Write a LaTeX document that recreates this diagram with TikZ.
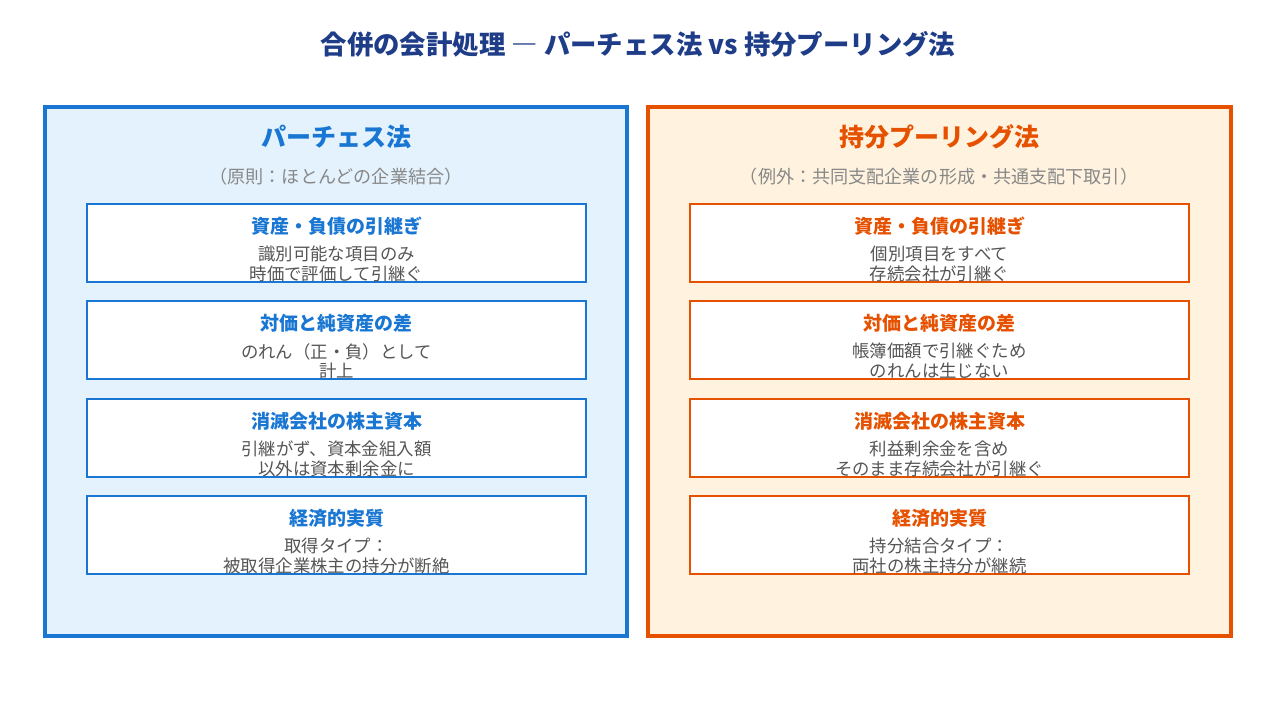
\documentclass[tikz,border=0pt]{standalone}
\usepackage{fontspec}
\setmainfont{Noto Sans CJK JP}
\usetikzlibrary{positioning}
\definecolor{navy}{HTML}{1F3C88}
\definecolor{pblue}{HTML}{1976D2}
\definecolor{pbluebg}{HTML}{E3F2FD}
\definecolor{porange}{HTML}{E65100}
\definecolor{porangebg}{HTML}{FFF3E0}
\definecolor{txtgray}{HTML}{555555}
\definecolor{subgray}{HTML}{888888}
\tikzset{
  panel/.style={draw=#1, line width=4pt, inner sep=0pt},
  itembox/.style={draw=#1, line width=2pt, fill=white, minimum width=499pt, minimum height=78pt, inner sep=0pt},
  itemhead/.style={text=#1, font=\fontsize{19}{22}\selectfont\bfseries},
  itembody/.style={text=txtgray, align=center, inner sep=0pt, font=\fontsize{17.4}{19.5}\selectfont},
}
\newcommand{\itemcard}[5]{%
  % #1 name, #2 center, #3 colour, #4 head, #5 body
  \node [itembox=#3] (#1) at #2 {};
  \node [itemhead=#3] (#1h) at ([yshift=-23pt]#1.north) {#4};
  \node [itembody, anchor=north] (#1b) at ([yshift=-43pt]#1.north) {#5};
}
\begin{document}
\begin{tikzpicture}[x=1pt,y=-1pt]
  \useasboundingbox (0,0) rectangle (1275,728);
  % title
  \node [text=navy, font=\fontsize{26.4}{30}\selectfont\bfseries] (title) at (638,44) {合併の会計処理 ― パーチェス法 vs 持分プーリング法};
  % left panel
  \filldraw [pbluebg, panel=pblue] (45,107) rectangle (627,636);
  \node [text=pblue, font=\fontsize{25}{29}\selectfont\bfseries] (ltitle) at (336,137) {パーチェス法};
  \node [text=subgray, font=\fontsize{18.1}{21}\selectfont] (lsub) at (336,177) {（原則：ほとんどの企業結合）};
  \itemcard{l1}{(336.5,243)}{pblue}{資産・負債の引継ぎ}{識別可能な項目のみ\\時価で評価して引継ぐ}
  \itemcard{l2}{(336.5,340)}{pblue}{対価と純資産の差}{のれん（正・負）として\\計上}
  \itemcard{l3}{(336.5,438)}{pblue}{消滅会社の株主資本}{引継がず、資本金組入額\\以外は資本剰余金に}
  \itemcard{l4}{(336.5,535)}{pblue}{経済的実質}{取得タイプ：\\被取得企業株主の持分が断絶}
  % right panel
  \filldraw [porangebg, panel=porange] (648,107) rectangle (1231,636);
  \node [text=porange, font=\fontsize{25}{29}\selectfont\bfseries] (rtitle) at (939,137) {持分プーリング法};
  \node [text=subgray, font=\fontsize{18.1}{21}\selectfont] (rsub) at (939,177) {（例外：共同支配企業の形成・共通支配下取引）};
  \itemcard{r1}{(939.5,243)}{porange}{資産・負債の引継ぎ}{個別項目をすべて\\存続会社が引継ぐ}
  \itemcard{r2}{(939.5,340)}{porange}{対価と純資産の差}{帳簿価額で引継ぐため\\のれんは生じない}
  \itemcard{r3}{(939.5,438)}{porange}{消滅会社の株主資本}{利益剰余金を含め\\そのまま存続会社が引継ぐ}
  \itemcard{r4}{(939.5,535)}{porange}{経済的実質}{持分結合タイプ：\\両社の株主持分が継続}
\end{tikzpicture}
\end{document}
